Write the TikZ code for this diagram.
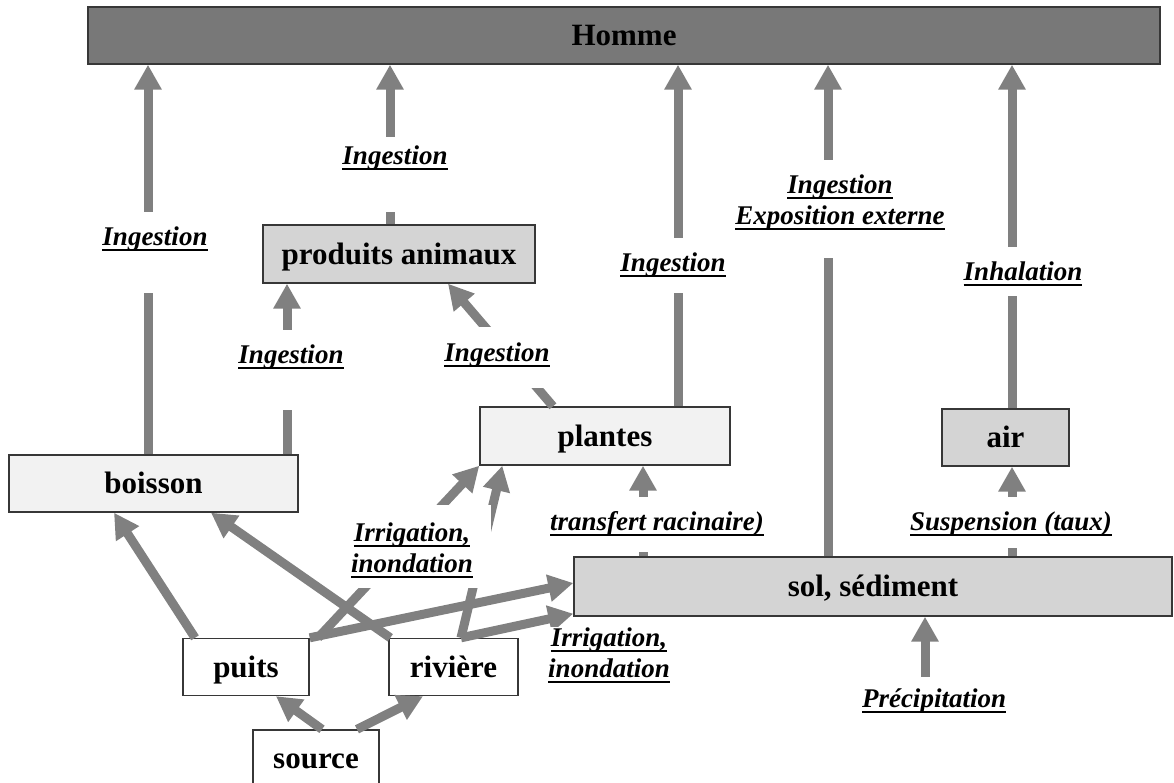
\documentclass[tikz,border=0pt]{standalone}
\usepackage{fontspec}
\setmainfont{Liberation Serif}
\usetikzlibrary{arrows.meta}

\definecolor{arrowgray}{RGB}{128,128,128}
\definecolor{framegray}{RGB}{55,55,55}
\definecolor{hommefill}{RGB}{120,120,120}
\definecolor{midfill}{RGB}{212,212,212}
\definecolor{lightfill}{RGB}{242,242,242}

\newcommand\boxfont{\fontsize{31}{36}\selectfont\bfseries}
\newcommand\labfont{\fontsize{27}{31}\selectfont\bfseries\itshape}
% underlined word with a heavy rule
\newcommand\ulword[1]{\setbox0\hbox{#1}\rlap{\rule[-6.4pt]{\wd0}{2.6pt}}\box0}
% two centred underlined lines, baseline on the first one
\newcommand\twoline[2]{\vtop{\baselineskip=31pt\halign{\hfil##\hfil\cr\ulword{#1}\cr\ulword{#2}\cr}}}

\begin{document}
\begin{tikzpicture}[x=1pt,y=-1pt,
  unit/.style={draw=framegray, line width=1.4pt, inner sep=0pt, font=\boxfont,
               text height=22pt, text depth=2pt},
  arr/.style={draw=arrowgray, line width=9pt, -{Triangle[length=25pt,width=26pt]}},
  lab/.style={fill=white, inner xsep=3pt, inner ysep=0pt, font=\labfont, anchor=base}]
\useasboundingbox (0,0) rectangle (1174,782);
\clip (0,0) rectangle (1174,782);

% compartments
\node[unit, fill=hommefill, minimum width=1072pt, minimum height=57pt] (homme) at (624,35.5) {Homme};
\node[unit, fill=midfill, minimum width=272pt, minimum height=58pt] (produits) at (399,254) {produits animaux};
\node[unit, fill=lightfill, minimum width=289pt, minimum height=57pt] (boisson) at (153.5,483.5) {boisson};
\node[unit, fill=lightfill, minimum width=250pt, minimum height=58pt] (plantes) at (605,436) {plantes};
\node[unit, fill=midfill, minimum width=127pt, minimum height=57pt] (air) at (1005.5,437.5) {air};
\node[unit, fill=midfill, minimum width=598pt, minimum height=59pt] (sol) at (873,586.5) {sol, sédiment};
\node[unit, fill=white, minimum width=126pt, minimum height=57pt] (puits) at (246,667) {puits};
\node[unit, fill=white, minimum width=129pt, minimum height=57pt] (riviere) at (453.5,667) {rivière};
\node[unit, fill=white, minimum width=126pt, minimum height=57pt] (source) at (316,758.5) {source};

% columns of the vertical transfers
\coordinate (xa) at (148,0);
\coordinate (xb) at (287,0);
\coordinate (xc) at (390,0);
\coordinate (xd) at (678,0);
\coordinate (xe) at (828,0);
\coordinate (xf) at (1012,0);
\coordinate (xg) at (643,0);

% transfers
\draw[arr] (boisson.north -| xa) -- (homme.south -| xa);
\draw[arr] (boisson.north -| xb) -- (produits.south -| xb);
\draw[arr] (produits.north -| xc) -- (homme.south -| xc);
\draw[arr] ([xshift=-52pt]plantes.north) -- ([xshift=49pt]produits.south);
\draw[arr] (plantes.north -| xd) -- (homme.south -| xd);
\draw[arr] (sol.north -| xe) -- (homme.south -| xe);
\draw[arr] (air.north -| xf) -- (homme.south -| xf);
\draw[arr] (sol.north -| xf) -- (air.south -| xf);
\draw[arr] (sol.north -| xg) -- (plantes.south -| xg);
\draw[arr] ([xshift=-51pt]puits.north) -- ([xshift=-39.5pt]boisson.south);
\draw[arr] ([xshift=2pt]riviere.north west) -- ([xshift=57.5pt]boisson.south);
\draw[arr] ([xshift=72pt]puits.north) -- (plantes.south west);
\draw[arr] ([xshift=7.5pt]riviere.north) -- ([xshift=23pt]plantes.south west);
\draw[arr] (puits.north east) -- ([yshift=3.5pt]sol.west);
\draw[arr] ([xshift=7.5pt]riviere.north) -- ([yshift=3pt]sol.south west);
\draw[arr] ([xshift=6pt]source.north) -- ([xshift=30pt]puits.south);
\draw[arr] ([xshift=41pt]source.north) -- ([xshift=-30.5pt]riviere.south);

% pathway labels (white boxes interrupt the lines)
\node[lab, text height=33pt, text depth=48pt] (l1) at (155,245) {\ulword{Ingestion}};
\node[lab, text height=27pt, text depth=48pt] (l2) at (395,164) {\ulword{Ingestion}};
\node[lab, text height=33pt, text depth=47pt] (l3) at (291,363) {\ulword{Ingestion}};
\node[lab, text height=34pt, text depth=27pt] (l4) at (497,361) {\ulword{Ingestion}};
\node[lab, text height=33pt, text depth=22pt] (l5) at (673,271) {\ulword{Ingestion}};
\node[lab, text height=33pt, text depth=65pt] (l6) at (840,193) {\twoline{Ingestion}{Exposition externe}};
\node[lab, text height=33pt, text depth=16pt] (l7) at (1023,280) {\ulword{Inhalation}};
\node[lab, text height=36pt, text depth=47pt, inner xsep=18pt] (l8) at (412,541) {\twoline{Irrigation,}{inondation}};
\node[lab, text height=33pt, text depth=22pt] (l9) at (657,530) {\ulword{transfert racinaire)}};
\node[lab, text height=33pt, text depth=18pt] (l10) at (1011,530) {\ulword{Suspension (taux)}};
\node[lab] (l11) at (609,646) {\twoline{Irrigation,}{inondation}};
\node[lab, text height=30pt] (l12) at (934,707) {\ulword{Précipitation}};

\coordinate (precip) at ([xshift=-9pt]l12.north);
\draw[arr] (precip) -- (precip |- sol.south);
\end{tikzpicture}
\end{document}
